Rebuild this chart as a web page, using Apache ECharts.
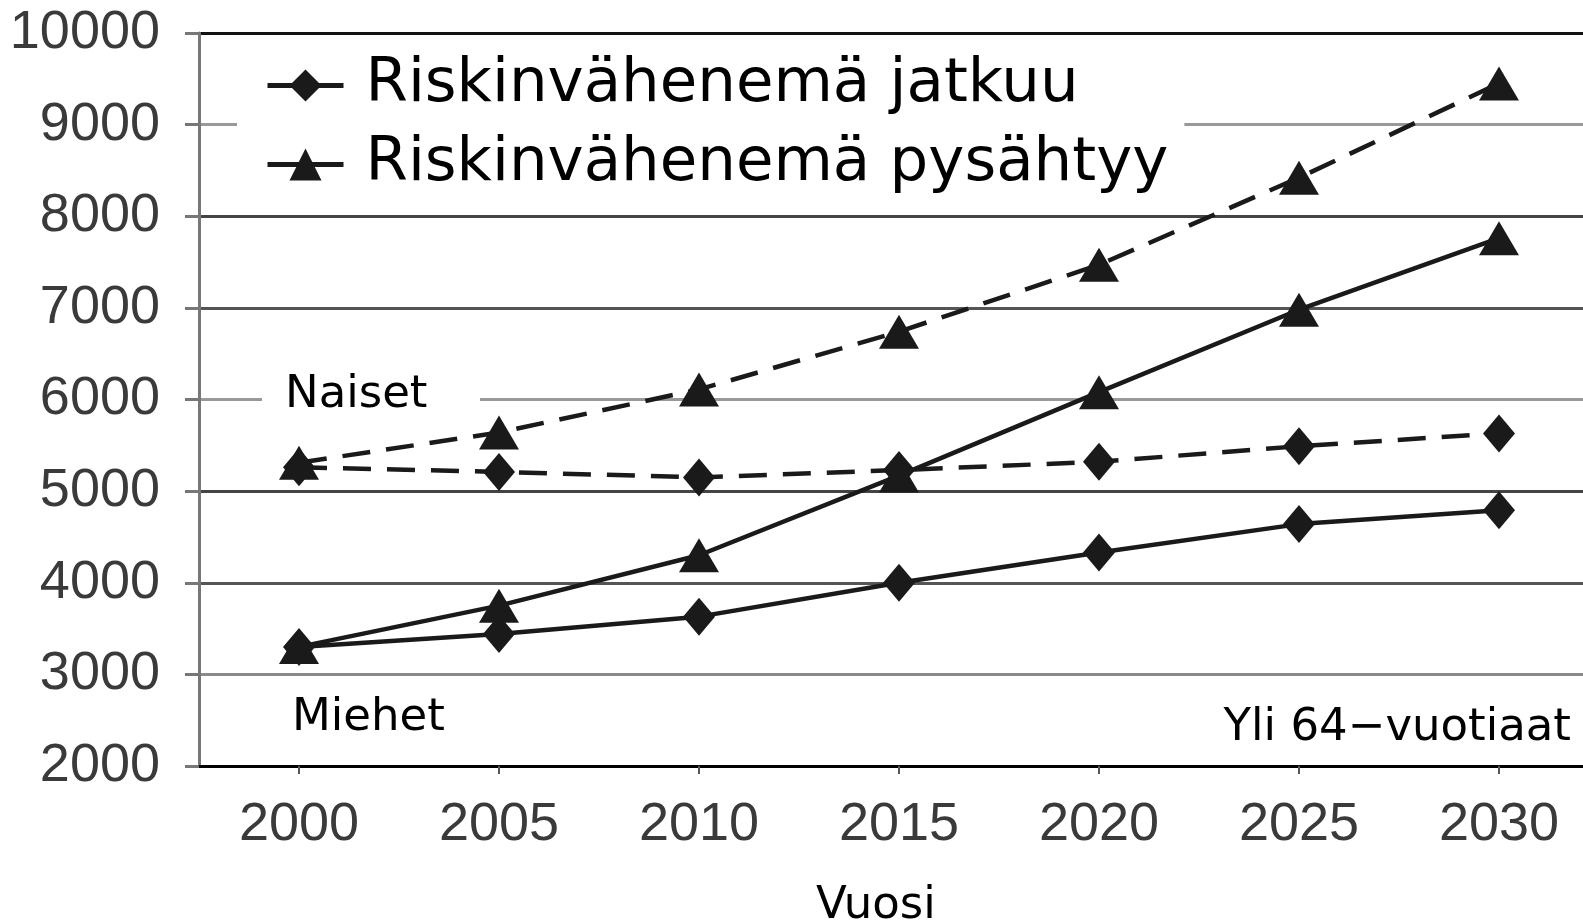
<!DOCTYPE html>
<html>
<head>
<meta charset="utf-8">
<script src="https://cdn.jsdelivr.net/npm/echarts@6/dist/echarts.min.js"></script>
<style>
  html, body { margin: 0; padding: 0; background: #fff; }
  #chart { width: 1583px; height: 922px; }
</style>
</head>
<body>
<div id="chart"></div>
<script>
// vuodet ja sarjat (luettu kuvasta)
const years = [2000, 2005, 2010, 2015, 2020, 2025, 2030];
const yTicks = [2000, 3000, 4000, 5000, 6000, 7000, 8000, 9000, 10000];
const miehetJatkuu = [3300, 3440, 3630, 4000, 4330, 4640, 4790];
const miehetPysahtyy = [3300, 3750, 4300, 5170, 6080, 6980, 7760];
const naisetJatkuu = [5260, 5210, 5150, 5230, 5320, 5490, 5630];
const naisetPysahtyy = [5310, 5640, 6110, 6740, 7470, 8420, 9450];

const nameJatkuu = 'Riskinvähenemä jatkuu';
const namePysahtyy = 'Riskinvähenemä pysähtyy';

const chart = echarts.init(document.getElementById('chart'));

function pairs(vals) {
    return years.map((y, i) => [y, vals[i]]);
}

function makeSeries(name, vals, symbol, size, dashed) {
    return {
        name: name,
        type: 'line',
        data: pairs(vals),
        symbol: symbol,
        symbolSize: size,
        showSymbol: true,
        animation: false,
        itemStyle: { color: '#1a1a1a' },
        lineStyle: {
            color: '#1a1a1a',
            width: 4.5,
            type: dashed ? [28, 16] : 'solid'
        }
    };
}

const font = 'DejaVu Sans';
const labelFont = '45px "DejaVu Sans"';

var option = {
    animation: false,
    backgroundColor: '#fff',
    grid: {
        left: 199,
        right: 0,
        top: 33,
        bottom: 156
    },
    legend: {
        orient: 'vertical',
        left: 237,
        top: 36,
        padding: [19, 16, 19, 28],
        backgroundColor: '#fff',
        itemWidth: 76,
        itemHeight: 40,
        itemGap: 18,
        data: [nameJatkuu, namePysahtyy],
        lineStyle: { width: 5 },
        textStyle: {
            fontFamily: font,
            fontSize: 61,
            lineHeight: 60,
            color: '#000',
            padding: [0, 0, 0, 17]
        }
    },
    xAxis: {
        type: 'value',
        min: 1997.5,
        max: 2032.1,
        splitLine: { show: false },
        axisLine: { lineStyle: { color: '#000', width: 3 } },
        axisTick: {
            show: true,
            customValues: years,
            length: 8,
            lineStyle: { color: '#555', width: 2 }
        },
        axisLabel: {
            customValues: years,
            formatter: v => String(v),
            fontFamily: 'Liberation Sans',
            fontSize: 54,
            color: '#3a3a3a',
            margin: 32
        }
    },
    yAxis: {
        type: 'value',
        min: 2000,
        max: 10000,
        interval: 1000,
        axisLine: { show: true, lineStyle: { color: '#777', width: 3 } },
        axisTick: {
            show: true,
            length: 14,
            lineStyle: { color: '#777', width: 3 }
        },
        axisLabel: {
            formatter: v => String(v),
            fontFamily: 'Liberation Sans',
            fontSize: 54,
            color: '#3a3a3a',
            margin: 39
        },
        splitLine: {
            show: true,
            lineStyle: {
                width: 3,
                color: ['#000', '#8a8a8a', '#555', '#444', '#999', '#555', '#444', '#999', '#111']
            }
        }
    },
    graphic: [
        {
            type: 'rect',
            z: 3,
            shape: { x: 262, y: 392, width: 218, height: 16 },
            style: { fill: '#fff' }
        },
        {
            type: 'text',
            z: 4,
            left: 285,
            top: 373,
            style: { text: 'Naiset', font: labelFont, fill: '#000' }
        },
        {
            type: 'text',
            z: 4,
            left: 292,
            top: 696,
            style: { text: 'Miehet', font: labelFont, fill: '#000' }
        },
        {
            type: 'text',
            z: 4,
            right: 12,
            top: 706,
            style: { text: 'Yli 64\u2212vuotiaat', font: labelFont, fill: '#000' }
        },
        {
            type: 'text',
            z: 4,
            left: 816,
            top: 884,
            style: { text: 'Vuosi', font: labelFont, fill: '#000' }
        }
    ],
    series: [
        makeSeries(nameJatkuu, miehetJatkuu, 'diamond', [32, 38], false),
        makeSeries(namePysahtyy, miehetPysahtyy, 'triangle', [40, 34], false),
        makeSeries(nameJatkuu, naisetJatkuu, 'diamond', [32, 38], true),
        makeSeries(namePysahtyy, naisetPysahtyy, 'triangle', [40, 34], true)
    ]
};

chart.setOption(option);
</script>
</body>
</html>
